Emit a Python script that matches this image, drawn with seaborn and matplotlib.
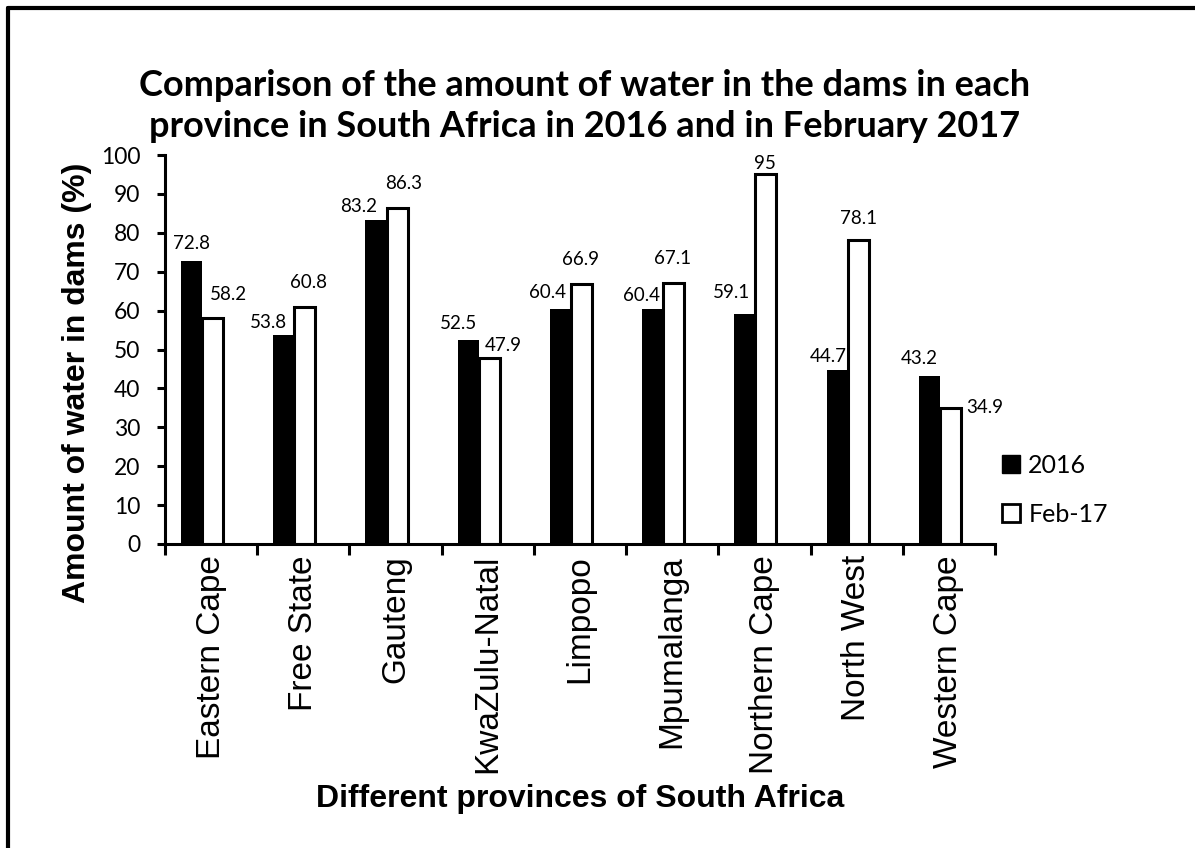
import pandas as pd
import matplotlib.pyplot as plt
import seaborn as sns
from matplotlib.lines import Line2D
from matplotlib.ticker import FixedLocator

# data
provinces = ['Eastern Cape', 'Free State', 'Gauteng', 'KwaZulu-Natal', 'Limpopo',
             'Mpumalanga', 'Northern Cape', 'North West', 'Western Cape']
water_2016 = [72.8, 53.8, 83.2, 52.5, 60.4, 60.4, 59.1, 44.7, 43.2]
water_feb17 = [58.2, 60.8, 86.3, 47.9, 66.9, 67.1, 95, 78.1, 34.9]
periods = ['2016', 'Feb-17']

# label offsets (pixels) from top centre of each bar, as placed in the original
off_2016 = [(0, 17), (-15, 12), (-17.5, 14), (-10, 16.5), (-12.5, 17),
            (-11.5, 14), (-13, 22), (-9, 14), (-10, 17)]
off_feb17 = [(16, 23.5), (4, 24.5), (6.5, 25), (14, 12), (-1, 24),
             (-1, 24.5), (-1, 11), (0, 22), (34, 1)]

df = pd.DataFrame({
    'Province': provinces * 2,
    'Water': water_2016 + water_feb17,
    'Period': [periods[0]] * len(provinces) + [periods[1]] * len(provinces),
})

sns.set_style('white')
plt.rcParams['font.family'] = ['Lato', 'DejaVu Sans']
plt.rcParams['text.color'] = 'black'
plt.rcParams['axes.labelcolor'] = 'black'
plt.rcParams['xtick.color'] = 'black'
plt.rcParams['ytick.color'] = 'black'
arial = 'Liberation Sans'

W, H = 1195, 848
fig = plt.figure(figsize=(W / 100, H / 100), dpi=100)
ax = fig.add_axes([165 / W, 1 - 544 / H, 830 / W, 389 / H])

sns.barplot(data=df, x='Province', y='Water', hue='Period', order=provinces,
            hue_order=periods, palette={'2016': 'black', 'Feb-17': 'white'},
            width=0.456, gap=0, edgecolor='black', linewidth=2.2,
            legend=False, ax=ax)

# bars sit a little left of the category centre in the original
shift = -0.098
for bar in ax.patches:
    bar.set_x(bar.get_x() + shift)
for bar in ax.containers[0]:
    bar.set_linewidth(0)

for cont, vals, offs in [(ax.containers[0], water_2016, off_2016),
                         (ax.containers[1], water_feb17, off_feb17)]:
    for bar, v, (dx, dy) in zip(cont, vals, offs):
        ax.annotate(f'{v:g}', xy=(bar.get_x() + bar.get_width() / 2, bar.get_height()),
                    xytext=(dx, dy), textcoords='offset pixels',
                    ha='center', va='center', fontsize=13.5, color='black')

ax.set_xlim(-0.5, len(provinces) - 0.5)
ax.set_ylim(0, 100)
ax.set_yticks(range(0, 101, 10))
ax.tick_params(axis='y', direction='out', length=5.8, width=2.2, pad=12,
               labelsize=16.5, colors='black', left=True)
ax.xaxis.set_minor_locator(FixedLocator([i - 0.5 for i in range(len(provinces) + 1)]))
ax.tick_params(axis='x', which='major', length=0, pad=8)
ax.tick_params(axis='x', which='minor', direction='out', length=8, width=2.2,
               bottom=True)
ax.set_xticks(range(len(provinces)))
ax.set_xticklabels(provinces, rotation=90, fontsize=24, family=arial)

for s in ['top', 'right']:
    ax.spines[s].set_visible(False)
for s in ['left', 'bottom']:
    ax.spines[s].set_linewidth(2.2)
    ax.spines[s].set_color('black')

ax.set_xlabel('Different provinces of South Africa', fontsize=23,
              fontweight='bold', family=arial, va='top')
ax.xaxis.set_label_coords(0.5, -0.618)
ax.set_ylabel('Amount of water in dams (%)', fontsize=23,
              fontweight='bold', family=arial)
ax.yaxis.set_label_coords(-0.088, 0.414)

fig.text(585 / W, 1 - 106 / H,
         'Comparison of the amount of water in the dams in each\n'
         'province in South Africa in 2016 and in February 2017',
         ha='center', va='center', fontsize=26, fontweight='bold',
         linespacing=1.3)

handles = [
    Line2D([], [], marker='s', linestyle='none', markersize=12.5,
           markerfacecolor='black', markeredgecolor='black'),
    Line2D([], [], marker='s', linestyle='none', markersize=12.5,
           markerfacecolor='white', markeredgecolor='black', markeredgewidth=2),
]
ax.legend(handles, periods, loc='center left', bbox_to_anchor=(0.995, 0.139),
          frameon=False, fontsize=18, handlelength=0.8, handletextpad=0.3,
          labelspacing=1.05, borderaxespad=0)

# partial frame round the chart (top and left edges only visible)
fig.add_artist(Line2D([8 / W, 1], [1 - 8 / H, 1 - 8 / H], transform=fig.transFigure,
                      color='black', lw=3))
fig.add_artist(Line2D([8 / W, 8 / W], [0, 1 - 8 / H], transform=fig.transFigure,
                      color='black', lw=3))

fig.savefig('out.png', dpi=100)
